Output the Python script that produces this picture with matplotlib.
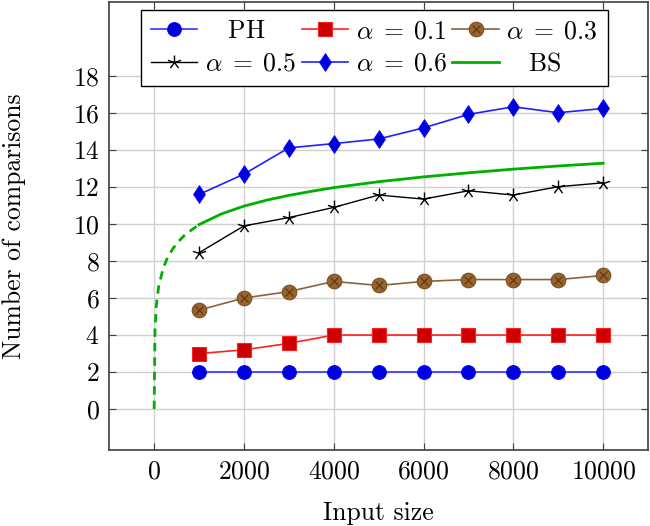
import matplotlib
matplotlib.use("Agg")
import matplotlib.pyplot as plt
from matplotlib.path import Path
from matplotlib.legend_handler import HandlerTuple
import numpy as np

plt.rcParams['font.family'] = 'cmr10'
plt.rcParams['mathtext.fontset'] = 'cm'
plt.rcParams['axes.formatter.use_mathtext'] = True
plt.rcParams['font.size'] = 18.5

sizes = [1000, 2000, 3000, 4000, 5000, 6000, 7000, 8000, 9000, 10000]
ph = [2, 2, 2, 2, 2, 2, 2, 2, 2, 2]
a01 = [3.0, 3.2, 3.55, 4, 4, 4, 4, 4, 4, 4]
a03 = [5.35, 6.0, 6.35, 6.9, 6.68, 6.9, 7.0, 7.0, 7.0, 7.22]
a05 = [8.45, 9.9, 10.35, 10.9, 11.57, 11.35, 11.8, 11.57, 12.02, 12.23]
a06 = [11.6, 12.7, 14.12, 14.35, 14.6, 15.2, 15.93, 16.34, 16.02, 16.25]

# BS curve (dashed below 1000, solid above)
bs_x_dash = [1, 20, 50, 100, 200, 300, 400, 500, 700, 1000]
bs_y_dash = [0, 4.3, 5.6, 6.6, 7.6, 8.2, 8.6, 8.95, 9.45, 9.97]
bs_x = [1000, 1500, 2000, 2500, 3000, 3500, 4000, 5000, 6000, 7000, 8000, 9000, 10000]
bs_y = [9.97, 10.55, 10.97, 11.29, 11.55, 11.77, 11.97, 12.29, 12.55, 12.77, 12.97, 13.14, 13.29]

# pgfplots-like "star": five spokes from the centre
verts = []
for k in range(5):
    ang = np.pi / 2 + k * 2 * np.pi / 5
    verts += [(0, 0), (np.cos(ang), np.sin(ang))]
star = Path(verts, [Path.MOVETO, Path.LINETO] * 5)

fig = plt.figure(figsize=(6.5, 5.26), dpi=100)
ax = fig.add_axes([0.168, 0.145, 0.829, 0.851])

ax.grid(True, color='#d0d0d0', lw=1.0)
ax.set_axisbelow(True)

h_ph, = ax.plot(sizes, ph, color='#3333ff', lw=1.2, marker='o', ms=10,
                mfc='#0000e0', mec='#0000ff', mew=0.6)
h_01, = ax.plot(sizes, a01, color='#ff2020', lw=1.2, marker='s', ms=9.5,
                mfc='#cc0000', mec='#ff2020', mew=0.8)
h_03, = ax.plot(sizes, a03, color='#8c6239', lw=1.2, marker='o', ms=10.5,
                mfc='#99632e', mec='#7a4e22', mew=0.8)
h_03x, = ax.plot(sizes, a03, ls='none', marker='x', ms=5.5, mec='#5e3b15', mew=0.9)
h_05, = ax.plot(sizes, a05, color='black', lw=1.0, marker=star, ms=10, mew=1.0,
                mfc='none', mec='black')
h_06, = ax.plot(sizes, a06, color='#2020ff', lw=1.2, marker='d', ms=9.5,
                mfc='#0000dd', mec='#0000ff', mew=0.5)
ax.plot(bs_x_dash, bs_y_dash, color='#00b000', lw=2.0, ls=(0, (3, 2.2)))
h_bs, = ax.plot(bs_x, bs_y, color='#00b000', lw=2.0)

ax.set_xlim(-1000, 11000)
ax.set_ylim(-2.2, 22)
ax.set_xticks([0, 2000, 4000, 6000, 8000, 10000])
ax.set_yticks([0, 2, 4, 6, 8, 10, 12, 14, 16, 18])
ax.tick_params(direction='in', length=5, width=0.8, color='#404040',
               top=True, right=True, pad=7)
for s in ax.spines.values():
    s.set_color('#404040')
    s.set_linewidth(1.2)

ax.set_xlabel('Input size', labelpad=13)
ax.set_ylabel('Number of comparisons')
ax.yaxis.set_label_coords(-0.155, 0.5)

handles = [h_ph, h_05, h_01, h_06, (h_03, h_03x), h_bs]
labels = [r'$\quad$PH', r'$\alpha\;=\;0.5$', r'$\alpha\;=\;0.1$',
          r'$\alpha\;=\;0.6$', r'$\alpha\;=\;0.3$', r'$\quad$BS']
leg = ax.legend(handles, labels, ncol=3, loc='upper center',
                bbox_to_anchor=(0.4925, 1.012), frameon=True, fancybox=False,
                edgecolor='black', framealpha=1, handlelength=1.8,
                handletextpad=0.3, columnspacing=0.2, borderpad=0.38,
                labelspacing=0.35, fontsize=18.5,
                handler_map={tuple: HandlerTuple(ndivide=1)})
leg.get_frame().set_linewidth(1.0)

fig.savefig('out.png', dpi=100)
